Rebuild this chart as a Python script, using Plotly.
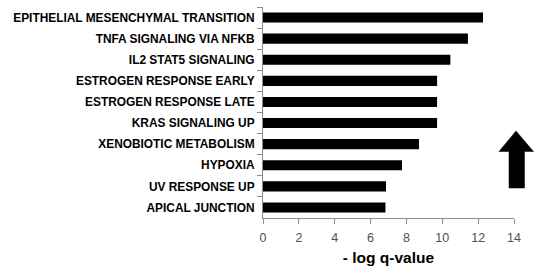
import plotly.graph_objects as go

categories = [
    "EPITHELIAL MESENCHYMAL TRANSITION",
    "TNFA SIGNALING VIA NFKB",
    "IL2 STAT5 SIGNALING",
    "ESTROGEN RESPONSE EARLY",
    "ESTROGEN RESPONSE LATE",
    "KRAS SIGNALING UP",
    "XENOBIOTIC METABOLISM",
    "HYPOXIA",
    "UV RESPONSE UP",
    "APICAL JUNCTION",
]
values = [12.27, 11.43, 10.45, 9.71, 9.71, 9.71, 8.70, 7.75, 6.86, 6.83]
x_ticks = [0, 2, 4, 6, 8, 10, 12, 14]

W, H = 536, 266
L, R, T, B = 263, 22, 7, 48
pw, ph = W - L - R, H - T - B

def px(x):
    return (x - L) / pw

def py(y):
    return (H - B - y) / ph

fig = go.Figure(go.Bar(
    x=values, y=categories, orientation="h",
    marker=dict(color="black", line=dict(width=0)),
    width=0.48,
))

# upward arrow
pts = [(516, 131), (533.5, 151.5), (524.5, 151.5), (524.5, 188), (509, 188),
       (509, 151.5), (499, 151.5)]
path = "M " + " L ".join(f"{px(a):.4f},{py(b):.4f}" for a, b in pts) + " Z"
fig.add_shape(type="path", xref="paper", yref="paper", path=path,
              fillcolor="black", line=dict(color="black", width=0.5))

fig.update_layout(
    width=W, height=H,
    margin=dict(l=L, r=R, t=T, b=B, autoexpand=False),
    plot_bgcolor="white", paper_bgcolor="white",
    showlegend=False,
    font=dict(family="Liberation Sans, Arial", color="black"),
    xaxis=dict(
        range=[0, 14], tickvals=x_ticks, ticks="outside", ticklen=5,
        tickcolor="#8c8c8c", showline=True, linecolor="#8c8c8c", linewidth=1,
        showgrid=False, zeroline=False, ticklabelstandoff=3,
        tickfont=dict(size=12.5, color="#505050"),
        title=dict(text="<b>- log q-value</b>", font=dict(size=15.5, color="black"), standoff=10),
    ),
    yaxis=dict(
        autorange="reversed", ticks="outside", ticklen=5, tickson="boundaries",
        tickcolor="#8c8c8c", showline=True, linecolor="#8c8c8c", linewidth=1,
        showgrid=False, zeroline=False, ticklabelstandoff=5,
        tickfont=dict(size=11.9, color="black", family="Liberation Sans, Arial"),
        tickprefix="<b>", ticksuffix="</b>",
    ),
)

fig.write_html(
    "out.html",
    config={"displayModeBar": False},
    post_script="document.body.style.margin='0';document.body.style.overflow='hidden';",
)
